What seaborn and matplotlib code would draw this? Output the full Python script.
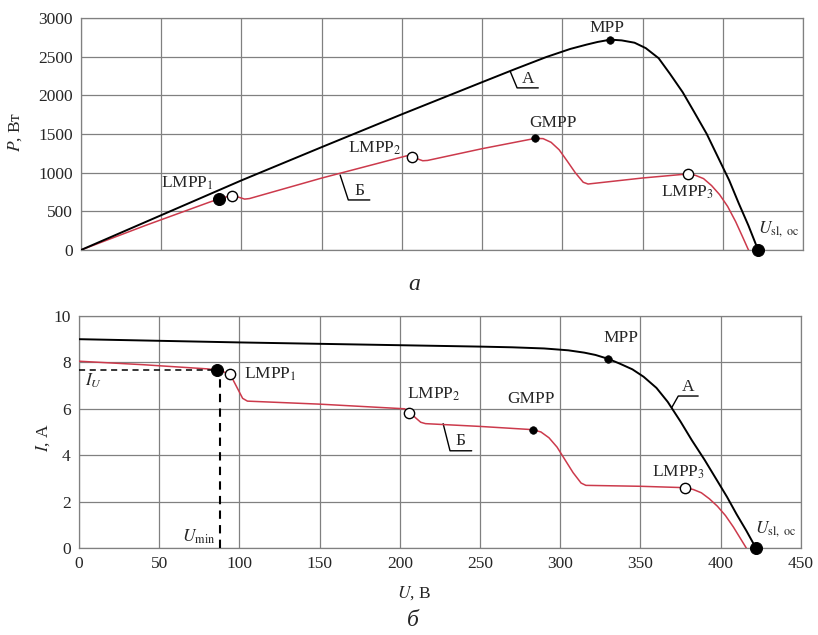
import numpy as np
import pandas as pd
import seaborn as sns
import matplotlib.pyplot as plt

# curve A (no shading) - voltage, current, power
u_a = [0, 50, 100, 150, 200, 250, 270, 290, 305, 315, 322, 330, 337, 345, 352, 360, 367, 375,
       382, 390, 397, 404, 410, 416, 422]
i_a = [9.0, 8.93, 8.86, 8.8, 8.74, 8.68, 8.65, 8.6, 8.52, 8.42, 8.32, 8.15, 7.95, 7.7, 7.38, 6.9, 6.3, 5.45,
       4.65, 3.8, 3.0, 2.2, 1.45, 0.75, 0.0]
p_a = [0, 450, 900, 1330, 1755, 2170, 2335, 2495, 2600, 2655, 2690, 2720, 2710, 2680, 2610, 2480, 2280, 2040,
       1790, 1500, 1200, 900, 600, 315, 0]

# curve Б (partial shading)
u_b = [0, 40, 80, 86, 90, 93, 96, 99, 102, 105, 150, 203, 206, 210, 213, 216, 250, 283, 288,
       293, 298, 303, 308, 313, 316, 350, 378, 383, 388, 393, 398, 403, 408, 412, 416]
i_b = [8.05, 7.9, 7.72, 7.67, 7.6, 7.5, 7.25, 6.85, 6.45, 6.33, 6.2, 6.0, 5.85, 5.6, 5.42, 5.36, 5.24, 5.1, 5.0,
       4.75, 4.35, 3.8, 3.25, 2.8, 2.7, 2.66, 2.6, 2.52, 2.38, 2.12, 1.8, 1.4, 0.9, 0.45, 0.0]
p_b = [0, 316, 618, 660, 684, 698, 696, 678, 658, 665, 930, 1218, 1205, 1176, 1154, 1158, 1310, 1443, 1440,
       1392, 1296, 1151, 1001, 876, 853, 931, 983, 965, 923, 833, 716, 564, 367, 185, 0]

# marked points: (U, P, I)
mpp = (330, 2720, 8.15)
gmpp = (283, 1450, 5.1)
lmpp1 = (86, 660, 7.67)
lmpp1_open = (94, 697, 7.51)
lmpp2 = (206, 1205, 5.82)
lmpp3 = (378, 983, 2.58)
usc = (422, 0, 0)

df_a = pd.DataFrame({"U": u_a, "I": i_a, "P": p_a})
df_b = pd.DataFrame({"U": u_b, "I": i_b, "P": p_b})

sns.set_style("white")
plt.rcParams['font.family'] = ['Liberation Serif', 'DejaVu Serif']
plt.rcParams['mathtext.fontset'] = 'stix'
fs = 12.5
grid_c = "#808080"
red = "#cc3a4c"

fig = plt.figure(figsize=(8.18, 6.35), dpi=100)
ax1 = fig.add_axes([0.099, 0.6063, 0.8827, 0.3654])
ax2 = fig.add_axes([0.0966, 0.137, 0.8824, 0.3654])


def style(ax, ymax, ystep):
    ax.set_xlim(0, 450)
    ax.set_ylim(0, ymax)
    ax.set_xticks(np.arange(0, 451, 50))
    ax.set_yticks(np.arange(0, ymax + 1, ystep))
    ax.grid(True, color=grid_c, lw=0.9)
    ax.set_axisbelow(True)
    for s in ax.spines.values():
        s.set_color(grid_c)
        s.set_linewidth(0.9)
    ax.tick_params(length=0, labelsize=fs, pad=6)
    ax.set_xlabel("")
    ax.set_ylabel("")


def points(ax, col):
    idx = 1 if col == "P" else 2
    big = pd.DataFrame({"U": [lmpp1[0], usc[0]], "v": [lmpp1[idx], usc[idx]]})
    small = pd.DataFrame({"U": [mpp[0], gmpp[0]], "v": [mpp[idx], gmpp[idx]]})
    opn = pd.DataFrame({"U": [lmpp1_open[0], lmpp2[0], lmpp3[0]],
                        "v": [lmpp1_open[idx], lmpp2[idx], lmpp3[idx]]})
    sns.scatterplot(data=big, x="U", y="v", ax=ax, s=75, color="black", edgecolor="black", zorder=5, clip_on=False)
    sns.scatterplot(data=small, x="U", y="v", ax=ax, s=30, color="black", edgecolor="black", zorder=5)
    sns.scatterplot(data=opn, x="U", y="v", ax=ax, s=55, color="white", edgecolor="black", linewidth=1.0, zorder=5)


# top: P(U)
sns.lineplot(data=df_b, x="U", y="P", ax=ax1, color=red, lw=1.1, sort=False, zorder=3)
sns.lineplot(data=df_a, x="U", y="P", ax=ax1, color="black", lw=1.4, sort=False, zorder=4)
points(ax1, "P")
style(ax1, 3000, 500)
ax1.set_xticklabels([])

ax1.text(328, 2870, "MPP", fontsize=fs, ha="center", va="center")
ax1.text(294, 1640, "GMPP", fontsize=fs, ha="center", va="center")
ax1.text(66, 860, r"LMPP$_{1}$", fontsize=fs, ha="center", va="center")
ax1.text(183, 1310, r"LMPP$_{2}$", fontsize=fs, ha="center", va="center")
ax1.text(378, 740, r"LMPP$_{3}$", fontsize=fs, ha="center", va="center")
ax1.text(422, 265, r"$U_{\mathrm{sl,\ oc}}$", fontsize=fs, ha="left", va="center")
ax1.plot([267.5, 271.8, 285], [2310, 2096, 2096], color="black", lw=1)
ax1.text(278.5, 2110, "А", fontsize=fs, ha="center", va="bottom")
ax1.plot([161.5, 166.6, 180], [970, 647, 647], color="black", lw=1)
ax1.text(173.5, 660, "Б", fontsize=fs, ha="center", va="bottom")

# bottom: I(U)
sns.lineplot(data=df_b, x="U", y="I", ax=ax2, color=red, lw=1.1, sort=False, zorder=3)
sns.lineplot(data=df_a, x="U", y="I", ax=ax2, color="black", lw=1.4, sort=False, zorder=4)
ax2.plot([0, lmpp1[0]], [lmpp1[2], lmpp1[2]], color="black", lw=1.1, ls=(0, (4, 3)), zorder=4)
ax2.plot([88, 88], [0, lmpp1[2]], color="black", lw=1.5, ls=(0, (4, 3)), zorder=4)
points(ax2, "I")
style(ax2, 10, 2)

ax2.text(338, 9.03, "MPP", fontsize=fs, ha="center", va="center")
ax2.text(282, 6.41, "GMPP", fontsize=fs, ha="center", va="center")
ax2.text(103, 7.48, r"LMPP$_{1}$", fontsize=fs, ha="left", va="center")
ax2.text(221, 6.63, r"LMPP$_{2}$", fontsize=fs, ha="center", va="center")
ax2.text(374, 3.26, r"LMPP$_{3}$", fontsize=fs, ha="center", va="center")
ax2.text(421.5, 0.83, r"$U_{\mathrm{sl,\ oc}}$", fontsize=fs, ha="left", va="center")
ax2.text(4, 7.2, r"$I_{U}$", fontsize=fs, ha="left", va="center")
ax2.text(85, 0.5, r"$U_{\mathrm{min}}$", fontsize=fs, ha="right", va="center")
ax2.plot([369.5, 373.6, 386], [6.05, 6.55, 6.55], color="black", lw=1)
ax2.text(380, 6.6, "А", fontsize=fs, ha="center", va="bottom")
ax2.plot([227, 231.3, 244.8], [5.36, 4.19, 4.19], color="black", lw=1)
ax2.text(238, 4.25, "Б", fontsize=fs, ha="center", va="bottom")

# axis titles and captions
fig.text(15 / 818, 1 - 132 / 635, r"$P$, Вт", rotation=90, fontsize=fs, ha="center", va="center")
fig.text(43 / 818, 1 - 437 / 635, r"$I$, А", rotation=90, fontsize=fs, ha="center", va="center")
fig.text(0.506, 1 - 593 / 635, r"$U$, В", fontsize=fs, ha="center", va="center")
fig.text(0.506, 1 - 285 / 635, "а", fontsize=17, style="italic", ha="center", va="center")
fig.text(0.505, 1 - 620 / 635, "б", fontsize=17, style="italic", ha="center", va="center")

fig.savefig("out.png", dpi=100)
